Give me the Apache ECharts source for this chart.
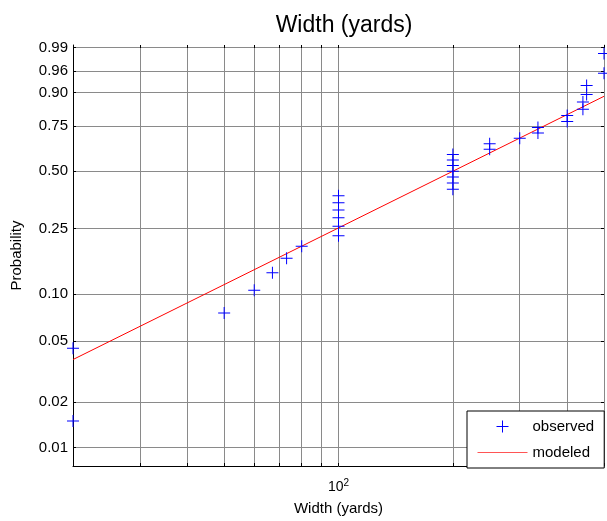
<!doctype html>
<html>
<head>
<meta charset="utf-8">
<style>
html, body { margin: 0; padding: 0; background: #fff; }
#main { width: 607px; height: 521px; }
</style>
</head>
<body>
<div id="main"></div>
<script src="https://cdn.jsdelivr.net/npm/echarts@6/dist/echarts.min.js"></script>
<script>
// probability ticks on the weibull scale
var probTicks = [0.01, 0.02, 0.05, 0.10, 0.25, 0.50, 0.75, 0.90, 0.96, 0.99];
var probLabels = ['0.01', '0.02', '0.05', '0.10', '0.25', '0.50', '0.75', '0.90', '0.96', '0.99'];
var widthTicks = [20, 30, 40, 50, 60, 70, 80, 90, 100, 200, 300, 400, 500];
var widthLabels = [100];

var observedWidth = [20, 20, 50, 60, 67, 73, 80,
    100, 100, 100, 100, 100, 100,
    200, 200, 200, 200, 200, 200, 200,
    250, 250, 300, 335, 335, 400, 400, 440, 440, 450, 450, 500, 500];
var observedProb = [0.015, 0.045, 0.076, 0.106, 0.136, 0.167, 0.197,
    0.227, 0.258, 0.288, 0.318, 0.348, 0.379,
    0.409, 0.439, 0.470, 0.500, 0.530, 0.561, 0.591,
    0.621, 0.652, 0.682, 0.712, 0.742, 0.773, 0.803, 0.833, 0.864, 0.894, 0.924, 0.955, 0.985];
var modeledWidth = [20, 500];
var modeledProb = [0.038, 0.887];

var font = 'Liberation Sans, Arial, sans-serif';

function weib(p) {
    return Math.log(-Math.log(1 - p));
}
var tickT = probTicks.map(weib);

function probLabel(v) {
    var best = 0;
    for (var i = 1; i < tickT.length; i++) {
        if (Math.abs(tickT[i] - v) < Math.abs(tickT[best] - v)) best = i;
    }
    return probLabels[best];
}

var observed = observedWidth.map(function (w, i) { return [w, weib(observedProb[i])]; });
var modeled = modeledWidth.map(function (w, i) { return [w, weib(modeledProb[i])]; });

var plus = 'path://M5.5,0h1v12h-1z M0,5.5h12v1h-12z';

var chart = echarts.init(document.getElementById('main'));
chart.setOption({
    animation: false,
    title: {
        text: 'Width (yards)',
        left: 339,
        top: 9,
        textAlign: 'center',
        textStyle: { fontSize: 23, fontWeight: 'normal', color: '#000', fontFamily: font }
    },
    legend: {
        orient: 'vertical',
        left: 467,
        top: 411,
        padding: [8, 10, 8, 10],
        itemWidth: 50,
        itemHeight: 12,
        itemGap: 11,
        borderColor: '#000',
        borderWidth: 1,
        borderRadius: 0,
        backgroundColor: '#fff',
        textStyle: { fontSize: 15, color: '#000', fontFamily: font },
        data: [
            { name: 'observed' },
            { name: 'modeled', itemStyle: { opacity: 0 }, lineStyle: { width: 1, color: '#ff5555' } }
        ]
    },
    grid: { left: 73, right: 3, top: 45, bottom: 52 },
    xAxis: [{
        type: 'log',
        logBase: 10,
        min: 20,
        max: 500,
        position: 'bottom',
        name: 'Width (yards)',
        nameLocation: 'middle',
        nameGap: 35,
        nameTextStyle: { fontSize: 15, color: '#000', fontFamily: font },
        axisLine: { show: true, onZero: false, lineStyle: { color: '#000' } },
        axisTick: { show: true, inside: true, length: 3, customValues: widthTicks, lineStyle: { color: '#000' } },
        axisLabel: {
            customValues: widthLabels,
            margin: 12,
            formatter: function (v) {
                return '{b|10}{s|' + Math.round(Math.log10(v)) + '}';
            },
            rich: {
                b: { fontSize: 14, color: '#000', fontFamily: font },
                s: { fontSize: 10, color: '#000', fontFamily: font, padding: [0, 0, 8, 0] }
            }
        },
        splitLine: { show: true, lineStyle: { color: '#8a8a8a', width: 1 } }
    }, {
        type: 'log',
        logBase: 10,
        min: 20,
        max: 500,
        position: 'top',
        axisLine: { show: false, onZero: false },
        axisTick: { show: true, inside: true, length: 3, customValues: widthTicks, lineStyle: { color: '#000' } },
        axisLabel: { show: false },
        splitLine: { show: false }
    }],
    yAxis: [{
        type: 'value',
        min: -4.881,
        max: 1.565,
        position: 'left',
        name: 'Probability',
        nameLocation: 'middle',
        nameGap: 49,
        nameTextStyle: { fontSize: 15, color: '#000', fontFamily: font },
        axisLine: { show: true, onZero: false, lineStyle: { color: '#000' } },
        axisTick: { show: true, inside: true, length: 3, customValues: tickT, lineStyle: { color: '#000' } },
        axisLabel: {
            customValues: tickT,
            margin: 5,
            fontSize: 15,
            color: '#000',
            fontFamily: font,
            formatter: probLabel
        },
        splitLine: { show: true, lineStyle: { color: '#8a8a8a', width: 1 } }
    }, {
        type: 'value',
        min: -4.881,
        max: 1.565,
        position: 'right',
        axisLine: { show: true, onZero: false, lineStyle: { color: '#888' } },
        axisTick: { show: true, inside: true, length: 3, customValues: tickT, lineStyle: { color: '#000' } },
        axisLabel: { show: false },
        splitLine: { show: false }
    }],
    series: [{
        name: 'observed',
        type: 'scatter',
        xAxisIndex: 0,
        yAxisIndex: 0,
        symbol: plus,
        symbolSize: 12,
        itemStyle: { color: '#0000ff', opacity: 1 },
        data: observed,
        z: 3
    }, {
        name: 'modeled',
        type: 'line',
        xAxisIndex: 0,
        yAxisIndex: 0,
        symbol: 'none',
        lineStyle: { color: '#ff0000', width: 1 },
        itemStyle: { color: '#ff0000' },
        data: modeled,
        z: 2
    }]
});

window.onresize = chart.resize;
</script>
</body>
</html>
